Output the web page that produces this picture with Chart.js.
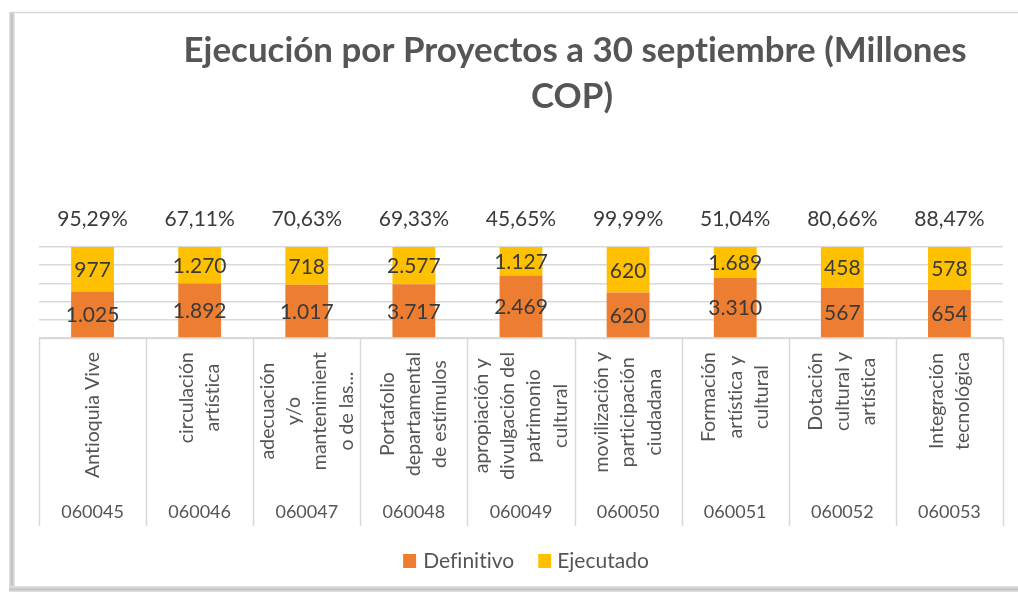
<!DOCTYPE html>
<html lang="es">
<head>
<meta charset="utf-8">
<title>Ejecución por Proyectos a 30 septiembre</title>
<script src="https://cdn.jsdelivr.net/npm/chart.js@4.4.1/dist/chart.umd.min.js"></script>
<style>
  html, body { margin: 0; padding: 0; background: #fff; }
  #wrap { width: 1018px; height: 593px; }
</style>
</head>
<body>
<div id="wrap"><canvas id="chart" width="1018" height="593"></canvas></div>
<script>
// ---------- data ----------
const titleLines = ["Ejecución por Proyectos a 30 septiembre (Millones", "COP)"];
const codes = ["060045", "060046", "060047", "060048", "060049", "060050", "060051", "060052", "060053"];
const names = [
  ["Antioquia Vive"],
  ["circulación", "artística"],
  ["adecuación", "y/o", "mantenimient", "o de las..."],
  ["Portafolio", "departamental", "de estímulos"],
  ["apropiación y", "divulgación del", "patrimonio", "cultural"],
  ["movilización y", "participación", "ciudadana"],
  ["Formación", "artística y", "cultural"],
  ["Dotación", "cultural y", "artística"],
  ["Integración", "tecnológica"]
];
const definitivo = [1025, 1892, 1017, 3717, 2469, 620, 3310, 567, 654];
const ejecutado  = [977, 1270, 718, 2577, 1127, 620, 1689, 458, 578];
const pctEjecucion = [95.29, 67.11, 70.63, 69.33, 45.65, 99.99, 51.04, 80.66, 88.47];
const seriesNames = ["Definitivo", "Ejecutado"];
const seriesColors = ["#ED7D31", "#FFC000"];

const FONT = "Lato, 'Open Sans', sans-serif";
const TEXT_DARK = "#3a3a3a";
const TEXT_GRAY = "#555555";
const GRID = "#d9d9d9";

// ---------- helpers ----------
const fmtMiles = (n) => String(n).replace(/\B(?=(\d{3})+(?!\d))/g, ".");
const fmtPct = (p) => p.toFixed(2).replace(".", ",") + "%";
// 100% stacked shares
const totals = definitivo.map((d, i) => d + ejecutado[i]);
const shareDef = definitivo.map((d, i) => d / totals[i] * 100);
const shareEje = ejecutado.map((e, i) => e / totals[i] * 100);
const rawValues = [definitivo, ejecutado];

// no "ti"/"fi" ligatures from Lato
function noLig(c) { if ("letterSpacing" in c) c.letterSpacing = "0.01px"; }

// ---------- plugins ----------
const framePlugin = {
  id: "frame",
  beforeDraw(chart) {
    const c = chart.ctx;
    c.save();
    c.fillStyle = "#fff";
    c.fillRect(0, 0, chart.width, chart.height);
    // left shadow
    const g = c.createLinearGradient(9, 0, 15, 0);
    g.addColorStop(0, "#e4e4e4");
    g.addColorStop(0.5, "#bdbdbd");
    g.addColorStop(1, "#efefef");
    c.fillStyle = g;
    c.fillRect(9, 12, 6, 580);
    // bottom shadow
    const gb = c.createLinearGradient(0, 586, 0, 593);
    gb.addColorStop(0, "#e6e6e6");
    gb.addColorStop(0.5, "#c4c4c4");
    gb.addColorStop(1, "#f2f2f2");
    c.fillStyle = gb;
    c.fillRect(9, 586, chart.width - 9, 6);
    // top line
    c.strokeStyle = "#d6d6d6";
    c.lineWidth = 1.5;
    c.beginPath();
    c.moveTo(11, 12.5);
    c.lineTo(chart.width, 12.5);
    c.stroke();
    c.restore();
  }
};

const labelsPlugin = {
  id: "labels",
  afterDatasetsDraw(chart) {
    const c = chart.ctx;
    c.save();
    noLig(c);
    c.font = "21px " + FONT;
    c.fillStyle = TEXT_DARK;
    c.textAlign = "center";
    c.textBaseline = "middle";
    chart.data.datasets.forEach((ds, di) => {
      chart.getDatasetMeta(di).data.forEach((bar, i) => {
        const y = (bar.y + bar.base) / 2;
        c.fillText(fmtMiles(rawValues[di][i]), bar.x, y + 1);
      });
    });
    // percentages above bars
    const area = chart.chartArea;
    chart.getDatasetMeta(0).data.forEach((bar, i) => {
      c.fillText(fmtPct(pctEjecucion[i]), bar.x, area.top - 28);
    });
    c.restore();
  },
  afterDraw(chart) {
    const c = chart.ctx;
    const area = chart.chartArea;
    const xs = chart.scales.x;
    const step = xs.getPixelForValue(1) - xs.getPixelForValue(0);
    c.save();
    noLig(c);

    // category box lines
    c.strokeStyle = GRID;
    c.lineWidth = 1.5;
    c.beginPath();
    c.moveTo(area.left, area.bottom + 0.5);
    c.lineTo(area.right, area.bottom + 0.5);
    for (let i = 0; i <= codes.length; i++) {
      const x = Math.round(xs.getPixelForValue(i) - step / 2) + 0.5;
      c.moveTo(x, area.bottom);
      c.lineTo(x, area.bottom + 188);
    }
    c.stroke();

    // rotated project names
    c.fillStyle = TEXT_GRAY;
    c.font = "19.5px " + FONT;
    c.textAlign = "center";
    c.textBaseline = "middle";
    names.forEach((lines, i) => {
      const cx = xs.getPixelForValue(i);
      const maxW = Math.max(...lines.map((l) => c.measureText(l).width));
      const cy = area.bottom + 14 + maxW / 2;
      lines.forEach((line, k) => {
        const lx = cx + (k - (lines.length - 1) / 2) * 26.3;
        c.save();
        c.translate(lx, cy);
        c.rotate(-Math.PI / 2);
        c.fillText(line, 0, 0);
        c.restore();
      });
    });

    // codes
    c.font = "18px " + FONT;
    codes.forEach((code, i) => {
      c.fillText(code, xs.getPixelForValue(i), area.bottom + 174);
    });

    // legend
    c.font = "21px " + FONT;
    c.textAlign = "left";
    const w0 = c.measureText(seriesNames[0]).width;
    const w1 = c.measureText(seriesNames[1]).width;
    const total = 13 + 7 + w0 + 24 + 13 + 6 + w1;
    let x = 526 - total / 2;
    const ly = 561;
    seriesNames.forEach((name, i) => {
      c.fillStyle = seriesColors[i];
      c.fillRect(x, ly - 7, 13, 14);
      x += 13 + (i === 0 ? 7 : 6);
      c.fillStyle = TEXT_GRAY;
      c.fillText(name, x, ly);
      x += (i === 0 ? w0 : w1) + 24;
    });

    // title
    c.fillStyle = TEXT_GRAY;
    c.textAlign = "center";
    c.textBaseline = "alphabetic";
    c.font = "bold 37px " + FONT;
    const tw = c.measureText(titleLines[0]).width;
    const size = Math.round(37 * 784 / tw * 10) / 10;
    c.font = "bold " + size + "px " + FONT;
    c.fillText(titleLines[0], 575, 62);
    c.fillText(titleLines[1], 572, 108);

    c.restore();
  }
};

// ---------- chart ----------
const ctx = document.getElementById("chart").getContext("2d");
new Chart(ctx, {
  type: "bar",
  data: {
    labels: codes,
    datasets: [
      { label: seriesNames[0], data: shareDef, backgroundColor: seriesColors[0] },
      { label: seriesNames[1], data: shareEje, backgroundColor: seriesColors[1] }
    ]
  },
  options: {
    responsive: false,
    animation: false,
    events: [],
    layout: { padding: { left: 39, right: 15, top: 247, bottom: 255 } },
    datasets: { bar: { categoryPercentage: 1, barPercentage: 0.4 } },
    scales: {
      x: { stacked: true, display: false },
      y: {
        stacked: true,
        min: 0,
        max: 100,
        ticks: { display: false, stepSize: 20 },
        border: { display: false },
        grid: { color: GRID, lineWidth: 1.5, drawTicks: false },
        afterFit: (s) => { s.width = 0; }
      }
    },
    plugins: {
      legend: { display: false },
      title: { display: false },
      tooltip: { enabled: false }
    }
  },
  plugins: [framePlugin, labelsPlugin]
});
</script>
</body>
</html>
